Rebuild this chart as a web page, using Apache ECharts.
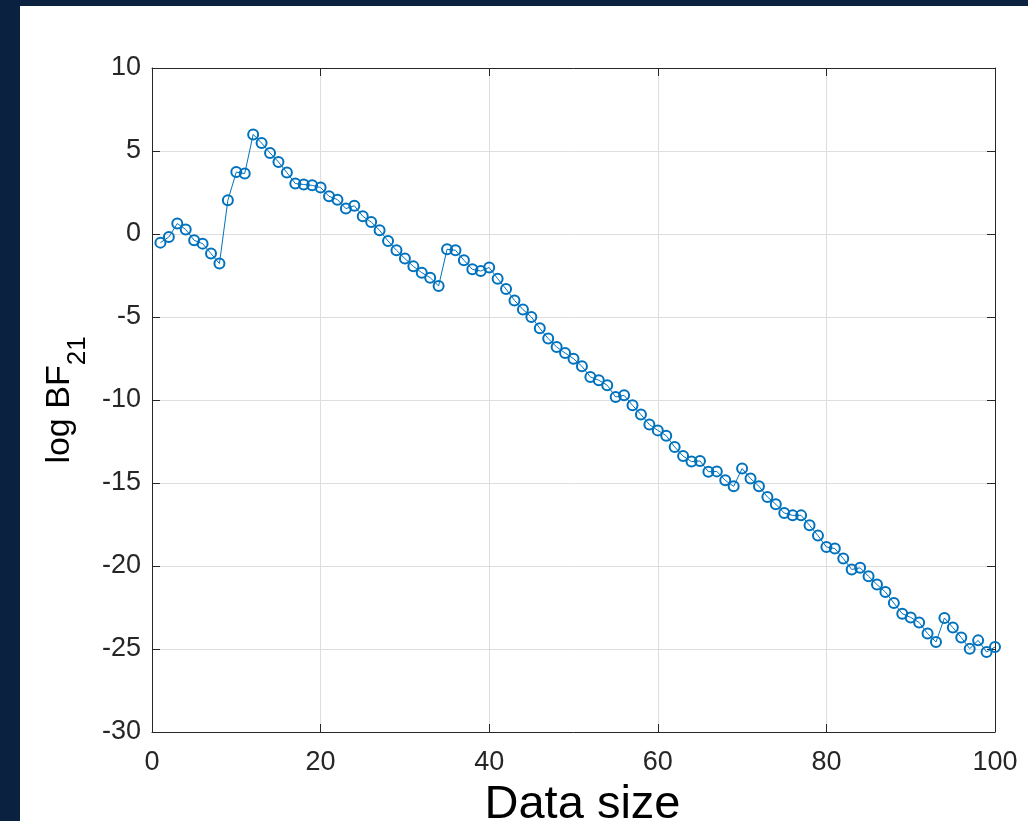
<!DOCTYPE html>
<html>
<head>
<meta charset="utf-8">
<script src="https://cdn.jsdelivr.net/npm/echarts@6/dist/echarts.min.js"></script>
<style>
  html, body { margin: 0; padding: 0; background: #0b2140; width: 1028px; height: 821px; overflow: hidden; }
  #main { position: absolute; left: 20px; top: 6px; width: 1008px; height: 815px; background: #fff; }
</style>
</head>
<body>
<div id="main"></div>
<script>
// data size 1..100
var dataSize = [];
for (var i = 1; i <= 100; i++) dataSize.push(i);

// log BF21
var logBF = [
  -0.52, -0.18, 0.63, 0.27, -0.38, -0.58, -1.18, -1.78, 2.03, 3.73,
  3.64, 6.0, 5.48, 4.88, 4.34, 3.70, 3.04, 2.98, 2.93, 2.80,
  2.27, 2.07, 1.53, 1.70, 1.07, 0.72, 0.22, -0.42, -0.98, -1.48,
  -1.95, -2.33, -2.63, -3.13, -0.92, -0.98, -1.58, -2.13, -2.23, -2.02,
  -2.69, -3.32, -4.0, -4.55, -5.0, -5.68, -6.3, -6.81, -7.17, -7.51,
  -7.97, -8.61, -8.81, -9.11, -9.82, -9.72, -10.32, -10.88, -11.48, -11.83,
  -12.15, -12.83, -13.38, -13.71, -13.67, -14.32, -14.3, -14.84, -15.2, -14.13,
  -14.73, -15.2, -15.84, -16.28, -16.81, -16.95, -16.95, -17.55, -18.17, -18.85,
  -18.95, -19.55, -20.21, -20.11, -20.62, -21.12, -21.57, -22.23, -22.87, -23.1,
  -23.4, -24.07, -24.58, -23.13, -23.71, -24.31, -24.98, -24.48, -25.18, -24.88
];

var xRange = [0, 100, 20];
var yRange = [-30, 10, 5];

var chart = echarts.init(document.getElementById('main'), null, { renderer: 'canvas' });

var font = 'Liberation Sans, Arial, Helvetica, sans-serif';
var axisColor = '#262626';
var gridColor = '#dedede';

// top / right edges of the box, ticks only
function boxAxis(range, pos) {
  return {
    type: 'value',
    position: pos,
    min: range[0], max: range[1], interval: range[2],
    axisLine: { show: true, onZero: false, lineStyle: { color: axisColor, width: 1 } },
    axisTick: { show: true, inside: true, length: 8, lineStyle: { color: axisColor } },
    axisLabel: { show: false },
    splitLine: { show: false }
  };
}

var option = {
  animation: false,
  backgroundColor: '#fff',
  grid: { left: 132, top: 62, right: 33, bottom: 89, containLabel: false, outerBoundsMode: 'none' },
  xAxis: [
    {
      type: 'value',
      position: 'bottom',
      min: xRange[0], max: xRange[1], interval: xRange[2],
      name: 'Data size',
      nameLocation: 'middle',
      nameGap: 50,
      nameTextStyle: { fontFamily: font, fontSize: 47, color: '#000', padding: [0, 0, 0, 18] },
      axisLine: { show: true, onZero: false, lineStyle: { color: axisColor, width: 1 } },
      axisTick: { show: true, inside: true, length: 8, lineStyle: { color: axisColor } },
      axisLabel: { margin: 17, fontFamily: font, fontSize: 27, color: axisColor },
      splitLine: { show: true, lineStyle: { color: gridColor, width: 1 } }
    },
    boxAxis(xRange, 'top')
  ],
  yAxis: [
    {
      type: 'value',
      position: 'left',
      min: yRange[0], max: yRange[1], interval: yRange[2],
      name: '{m|log BF}{s|21}',
      nameLocation: 'middle',
      nameGap: 66,
      nameTextStyle: {
        fontFamily: font,
        color: '#000',
        rich: {
          m: { fontFamily: font, fontSize: 34, lineHeight: 34, verticalAlign: 'top', color: '#000' },
          s: { fontFamily: font, fontSize: 26, lineHeight: 26, verticalAlign: 'top', padding: [22, 0, 0, 0], color: '#000' }
        }
      },
      axisLine: { show: true, onZero: false, lineStyle: { color: axisColor, width: 1 } },
      axisTick: { show: true, inside: true, length: 8, lineStyle: { color: axisColor } },
      axisLabel: { margin: 11, fontFamily: font, fontSize: 27, color: axisColor },
      splitLine: { show: true, lineStyle: { color: gridColor, width: 1 } }
    },
    boxAxis(yRange, 'right')
  ],
  series: [
    {
      type: 'line',
      xAxisIndex: 0,
      yAxisIndex: 0,
      data: dataSize.map(function (n, i) { return [n, logBF[i]]; }),
      symbol: 'circle',
      symbolSize: 10,
      showAllSymbol: true,
      lineStyle: { color: '#0072BD', width: 1 },
      itemStyle: { color: 'rgba(255,255,255,0)', borderColor: '#0072BD', borderWidth: 2 },
      emphasis: { disabled: true },
      silent: true,
      z: 3
    }
  ]
};

chart.setOption(option);
</script>
</body>
</html>
